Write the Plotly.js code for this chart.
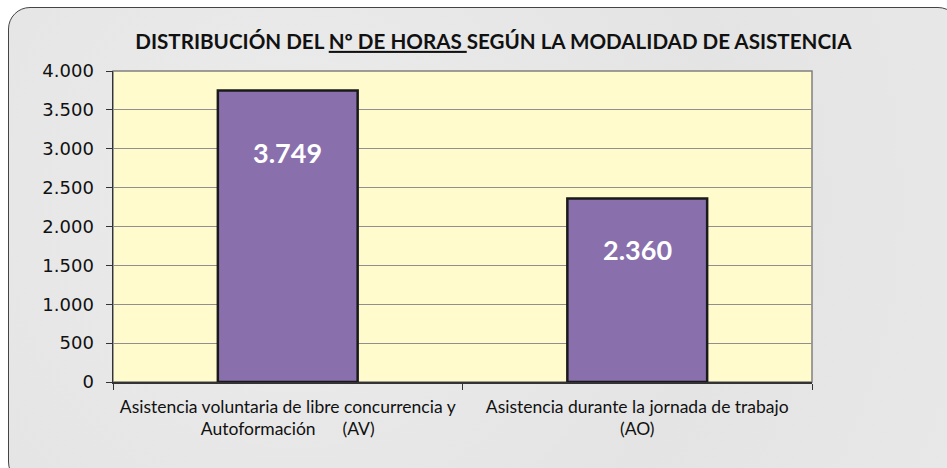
<!DOCTYPE html>
<html>
<head>
<meta charset="utf-8">
<script src="https://cdn.plot.ly/plotly-3.0.1.min.js"></script>
<style>
html,body{margin:0;padding:0;width:947px;height:468px;overflow:hidden;background:#ffffff;}
#frame{position:absolute;left:8px;top:7px;width:950px;height:475px;border:1.5px solid #444;border-radius:22px;
background:radial-gradient(circle at 30% 40%, #ececec 0%, #e4e4e4 60%, #e8e8e8 100%);}
#chart{position:absolute;left:0;top:0;width:947px;height:468px;}
</style>
</head>
<body>
<div id="frame"></div>
<div id="chart"></div>
<script>
// Data
const categories = [
  "Asistencia voluntaria de libre concurrencia y<br>Autoformación\u00a0\u00a0\u00a0\u00a0\u00a0\u00a0(AV)",
  "Asistencia durante la jornada de trabajo<br>(AO)"
];
const hours = [3749, 2360];
const yTicks = [0, 500, 1000, 1500, 2000, 2500, 3000, 3500, 4000];
const titleText = "DISTRIBUCIÓN DEL <u>Nº DE HORAS </u>SEGÚN LA MODALIDAD DE ASISTENCIA";

function fmt(v){ return String(v).replace(/\B(?=(\d{3})+(?!\d))/g, "."); }

const trace = {
  type: "bar",
  x: categories,
  y: hours,
  marker: {color: "#8a6fad", line: {color: "#1a1a1a", width: 2.5}},
  hoverinfo: "none"
};

const labelShift = [-62, -51];
const annotations = hours.map((v, i) => ({
  x: categories[i], y: v, xref: "x", yref: "y",
  text: "<b>" + fmt(v) + "</b>", showarrow: false,
  yshift: labelShift[i], yanchor: "middle",
  font: {family: "Lato, 'Open Sans', sans-serif", size: 27, color: "#ffffff"}
}));

const layout = {
  width: 947, height: 468, autosize: false,
  paper_bgcolor: "rgba(0,0,0,0)",
  plot_bgcolor: "#fffbcc",
  separators: ",.",
  margin: {l: 113, r: 135, t: 71, b: 86, pad: 0},
  bargap: 0.6,
  showlegend: false,
  title: {
    text: titleText,
    xref: "container", yref: "container",
    x: 0.521, xanchor: "center", y: 0.911, yanchor: "middle",
    font: {family: "Lato, 'Open Sans', sans-serif", size: 20.6, color: "#111111", weight: "bold"}
  },
  xaxis: {
    type: "category",
    tickson: "boundaries",
    ticks: "outside", ticklen: 6, tickcolor: "#333", tickwidth: 1,
    showline: true, linecolor: "#333", linewidth: 1.5,
    showgrid: false,
    tickfont: {family: "Lato, 'Open Sans', sans-serif", size: 17.5, color: "#111"},
    ticklabelstandoff: 8,
    fixedrange: true
  },
  yaxis: {
    range: [0, 4000],
    tickvals: yTicks,
    tickformat: ",d",
    ticks: "outside", ticklen: 6, tickcolor: "#333", tickwidth: 1,
    showline: true, linecolor: "#333", linewidth: 1.5,
    showgrid: true, gridcolor: "#8f8f8f", gridwidth: 1,
    zeroline: false,
    tickfont: {family: "'DejaVu Sans', sans-serif", size: 18, color: "#111"},
    ticklabelstandoff: 8,
    fixedrange: true
  },
  shapes: [{
    type: "rect", xref: "paper", yref: "paper", x0: 0, x1: 1, y0: 0, y1: 1,
    line: {color: "#808080", width: 1.5}, layer: "below"
  }],
  annotations: annotations
};

Plotly.newPlot("chart", [trace], layout, {displayModeBar: false, staticPlot: true});
</script>
</body>
</html>
